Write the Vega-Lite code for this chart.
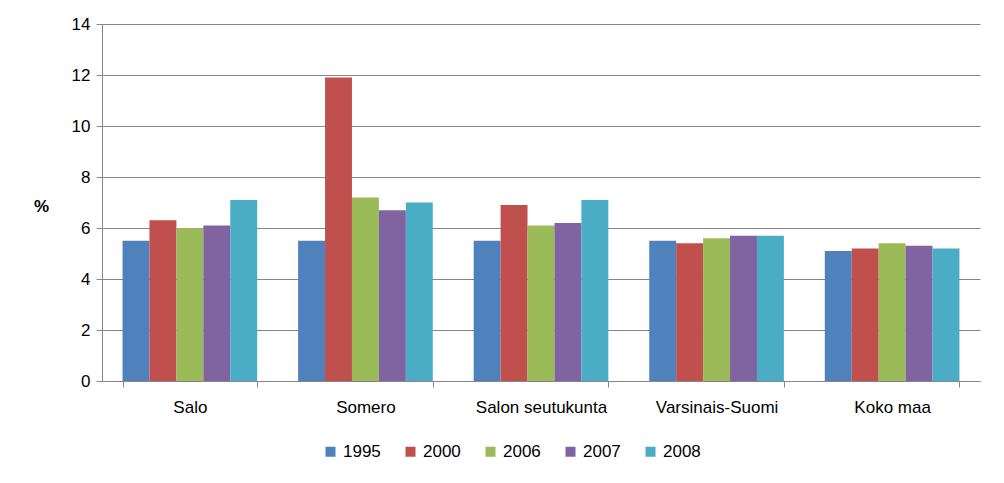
{
  "$schema": "https://vega.github.io/schema/vega-lite/v6.json",
  "width": 878,
  "height": 357,
  "autosize": "none",
  "padding": {"left": 102, "top": 24, "right": 24, "bottom": 102},
  "background": "white",
  "config": {
    "view": {"stroke": null},
    "font": "Liberation Sans",
    "axis": {"labelFont": "Liberation Sans", "titleFont": "Liberation Sans"}
  },
  "data": {
    "values": [
      {"alue": "Salo", "vuosi": "1995", "osuus": 5.5},
      {"alue": "Salo", "vuosi": "2000", "osuus": 6.3},
      {"alue": "Salo", "vuosi": "2006", "osuus": 6.0},
      {"alue": "Salo", "vuosi": "2007", "osuus": 6.1},
      {"alue": "Salo", "vuosi": "2008", "osuus": 7.1},
      {"alue": "Somero", "vuosi": "1995", "osuus": 5.5},
      {"alue": "Somero", "vuosi": "2000", "osuus": 11.9},
      {"alue": "Somero", "vuosi": "2006", "osuus": 7.2},
      {"alue": "Somero", "vuosi": "2007", "osuus": 6.7},
      {"alue": "Somero", "vuosi": "2008", "osuus": 7.0},
      {"alue": "Salon seutukunta", "vuosi": "1995", "osuus": 5.5},
      {"alue": "Salon seutukunta", "vuosi": "2000", "osuus": 6.9},
      {"alue": "Salon seutukunta", "vuosi": "2006", "osuus": 6.1},
      {"alue": "Salon seutukunta", "vuosi": "2007", "osuus": 6.2},
      {"alue": "Salon seutukunta", "vuosi": "2008", "osuus": 7.1},
      {"alue": "Varsinais-Suomi", "vuosi": "1995", "osuus": 5.5},
      {"alue": "Varsinais-Suomi", "vuosi": "2000", "osuus": 5.4},
      {"alue": "Varsinais-Suomi", "vuosi": "2006", "osuus": 5.6},
      {"alue": "Varsinais-Suomi", "vuosi": "2007", "osuus": 5.7},
      {"alue": "Varsinais-Suomi", "vuosi": "2008", "osuus": 5.7},
      {"alue": "Koko maa", "vuosi": "1995", "osuus": 5.1},
      {"alue": "Koko maa", "vuosi": "2000", "osuus": 5.2},
      {"alue": "Koko maa", "vuosi": "2006", "osuus": 5.4},
      {"alue": "Koko maa", "vuosi": "2007", "osuus": 5.3},
      {"alue": "Koko maa", "vuosi": "2008", "osuus": 5.2}
    ]
  },
  "mark": {"type": "bar"},
  "encoding": {
    "x": {
      "field": "alue",
      "type": "nominal",
      "sort": ["Salo", "Somero", "Salon seutukunta", "Varsinais-Suomi", "Koko maa"],
      "scale": {"paddingInner": 0.233, "paddingOuter": 0.117},
      "axis": {
        "title": null,
        "labelAngle": 0,
        "labelFontSize": 17,
        "labelColor": "#000000",
        "labelPadding": 12,
        "tickBand": "extent",
        "tickSize": 6,
        "tickColor": "#868686",
        "domainColor": "#868686",
        "grid": false
      }
    },
    "xOffset": {"field": "vuosi", "type": "nominal", "sort": ["1995", "2000", "2006", "2007", "2008"]},
    "y": {
      "field": "osuus",
      "type": "quantitative",
      "scale": {"domain": [0, 14], "nice": false},
      "axis": {
        "title": "%",
        "titleAngle": 0,
        "titleX": -61,
        "titleY": 182,
        "titleAlign": "center",
        "titleBaseline": "middle",
        "titleFontSize": 17,
        "titleFontWeight": "bold",
        "titleColor": "#000000",
        "values": [0, 2, 4, 6, 8, 10, 12, 14],
        "labelFontSize": 17,
        "labelColor": "#000000",
        "labelPadding": 6,
        "tickSize": 6,
        "tickColor": "#868686",
        "domainColor": "#868686",
        "gridColor": "#868686",
        "gridOpacity": 1
      }
    },
    "color": {
      "field": "vuosi",
      "type": "nominal",
      "scale": {
        "domain": ["1995", "2000", "2006", "2007", "2008"],
        "range": ["#4F81BD", "#C0504D", "#9BBB59", "#8064A2", "#4BACC6"]
      },
      "legend": {
        "title": null,
        "orient": "none",
        "direction": "horizontal",
        "legendX": 220,
        "legendY": 419,
        "symbolType": "square",
        "symbolSize": 100,
        "symbolStrokeWidth": 0,
        "symbolOpacity": 1,
        "labelFontSize": 17,
        "labelColor": "#000000",
        "labelOffset": 4,
        "columnPadding": 21
      }
    }
  }
}
